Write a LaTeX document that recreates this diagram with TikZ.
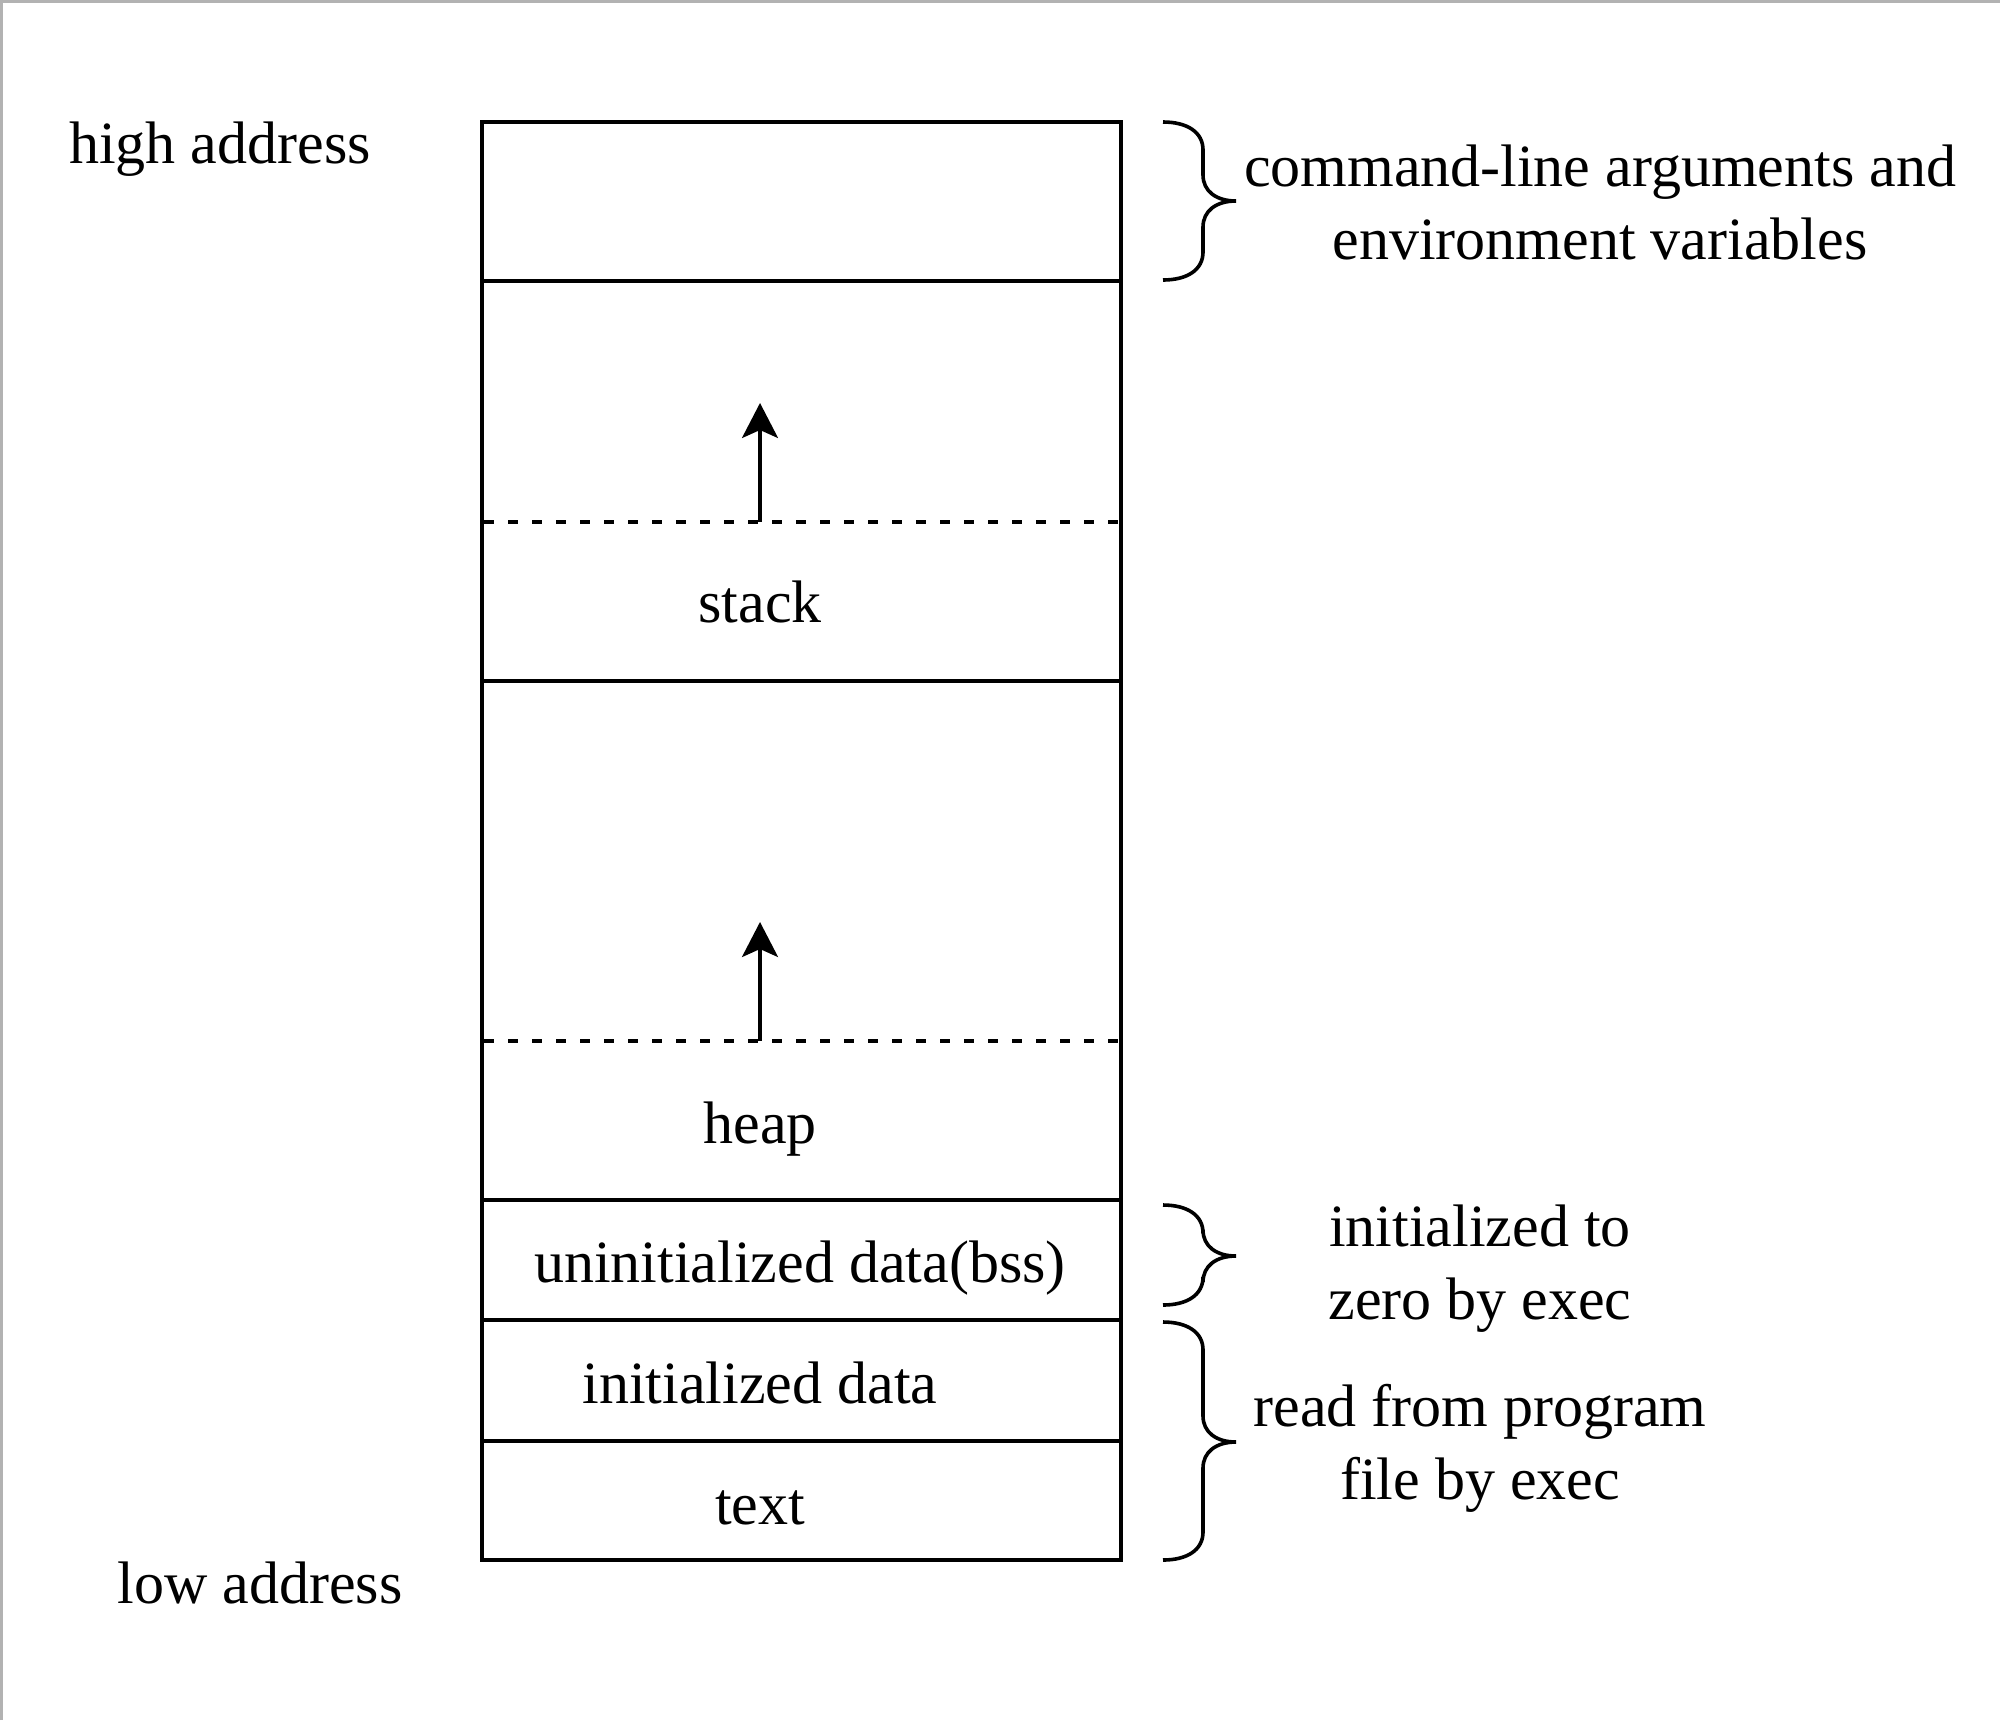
\documentclass[tikz,border=0pt]{standalone}
\usepackage{fontspec}
\setmainfont{Liberation Serif}
\usetikzlibrary{arrows.meta}
\newcommand{\rbrc}[3]{%
  \draw[brc] (1163,#1) .. controls (1187,#1) and (1203,#1+10) .. (1203,#1+28)
    -- (1203,#2-26) .. controls (1203,#2-10) and (1216,#2) .. (1236,#2)
    .. controls (1216,#2) and (1203,#2+10) .. (1203,#2+26)
    -- (1203,#3-28) .. controls (1203,#3-10) and (1187,#3) .. (1163,#3);}
\begin{document}
\begin{tikzpicture}[x=0.5pt,y=-0.5pt,
  seg/.style={draw=black, line width=2pt},
  lbl/.style={font=\fontsize{30}{36.4}\selectfont, inner sep=0pt, align=center},
  brc/.style={line width=1.8pt},
  arr/.style={line width=1.6pt, -{Stealth[length=17.5pt,width=18pt,inset=4pt]}},
  dsh/.style={line width=1.6pt, dash pattern=on 5pt off 7pt}]
\useasboundingbox (0,0) rectangle (2000,1720);
\fill[white] (0,0) rectangle (2000,1720);
\draw[black!30, line width=1.2pt] (1.5,1720) -- (1.5,1.5) -- (2000,1.5);
% memory box
\draw[seg] (482,122) rectangle (1121,1560);
\foreach \yy in {281,681,1200,1320,1441} \draw[seg] (482,\yy) -- (1121,\yy);
\draw[dsh] (484,522) -- (1119,522);
\draw[dsh] (484,1041) -- (1119,1041);
% arrows
\coordinate (s0) at (760,522);
\coordinate (s1) at (760,403);
\coordinate (h0) at (760,1041);
\coordinate (h1) at (760,922);
\draw[arr] (s0) -- (s1);
\draw[arr] (h0) -- (h1);
% labels
\node[lbl, anchor=base] (hi) at (220,163) {high address};
\node[lbl, anchor=base] (lo) at (260,1603) {low address};
\node[lbl, anchor=base] (stk) at (760,622) {stack};
\node[lbl, anchor=base] (hp) at (760,1143) {heap};
\node[lbl, anchor=base] (bss) at (800,1282) {uninitialized data(bss)};
\node[lbl, anchor=base] (idata) at (760,1403) {initialized data};
\node[lbl, anchor=base] (txt) at (760,1524) {text};
% braces
\rbrc{122}{201}{280}
\rbrc{1205}{1256}{1305}
\rbrc{1322}{1442}{1560}
\node[lbl, anchor=base] (cmd) at (1600,259) {command-line arguments and\\environment variables};
\node[lbl, anchor=base] (zero) at (1480,1319) {initialized to\\zero by exec};
\node[lbl, anchor=base] (read) at (1480,1499) {read from program\\file by exec};
\end{tikzpicture}
\end{document}
